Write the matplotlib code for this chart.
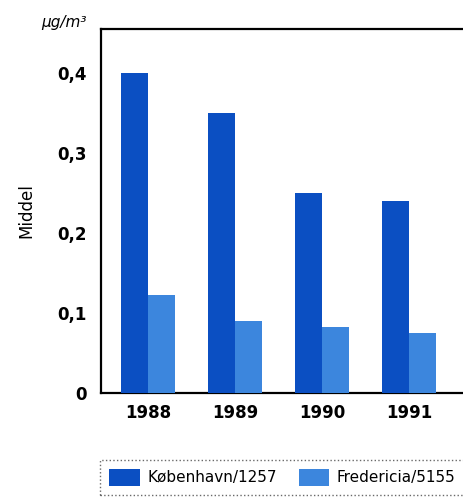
import matplotlib
matplotlib.use("Agg")
import matplotlib.pyplot as plt
import numpy as np
from matplotlib.patches import Patch

years = ["1988", "1989", "1990", "1991"]
kobenhavn = [0.40, 0.35, 0.25, 0.24]
fredericia = [0.123, 0.09, 0.083, 0.075]
yticks = [0, 0.1, 0.2, 0.3, 0.4]
ytick_labels = ["0", "0,1", "0,2", "0,3", "0,4"]
series_names = ["København/1257", "Fredericia/5155"]

c_dark = "#0b4fc2"
c_light = "#3c86dd"

fig = plt.figure(figsize=(4.63, 4.98), dpi=100)
ax = fig.add_axes([0.218, 0.211, 0.782, 0.731])

x = np.arange(len(years))
w = 0.31
ax.bar(x - w / 2, kobenhavn, width=w, color=c_dark, zorder=3)
ax.bar(x + w / 2, fredericia, width=w, color=c_light, zorder=3)

ax.set_ylim(0, 0.455)
ax.set_xlim(-0.54, 3.62)
ax.set_yticks(yticks)
ax.set_yticklabels(ytick_labels, fontsize=12, fontweight="bold")
ax.set_xticks(x)
ax.set_xticklabels(years, fontsize=12, fontweight="bold")
ax.tick_params(axis="y", length=0, pad=10)
ax.tick_params(axis="x", length=0, pad=8)
for s in ["left", "top", "bottom"]:
    ax.spines[s].set_linewidth(1.6)
ax.spines["right"].set_visible(False)

ax.set_ylabel("Middel", fontsize=12, labelpad=16)
fig.text(0.09, 0.94, "µg/m³", fontsize=11, style="italic", ha="left", va="bottom")

handles = [Patch(facecolor=c_dark), Patch(facecolor=c_light)]
leg = fig.legend(handles, series_names, loc="upper left",
                 bbox_to_anchor=(0.2, -0.008, 0.82, 0.1), mode="expand",
                 ncol=2, fontsize=11, frameon=True, fancybox=False,
                 handlelength=2.0, handleheight=1.3, handletextpad=0.5,
                 borderpad=0.6, columnspacing=1.5)
fr = leg.get_frame()
fr.set_edgecolor("#444444")
fr.set_linestyle(":")
fr.set_linewidth(1.0)

fig.savefig("out.png", dpi=100)
